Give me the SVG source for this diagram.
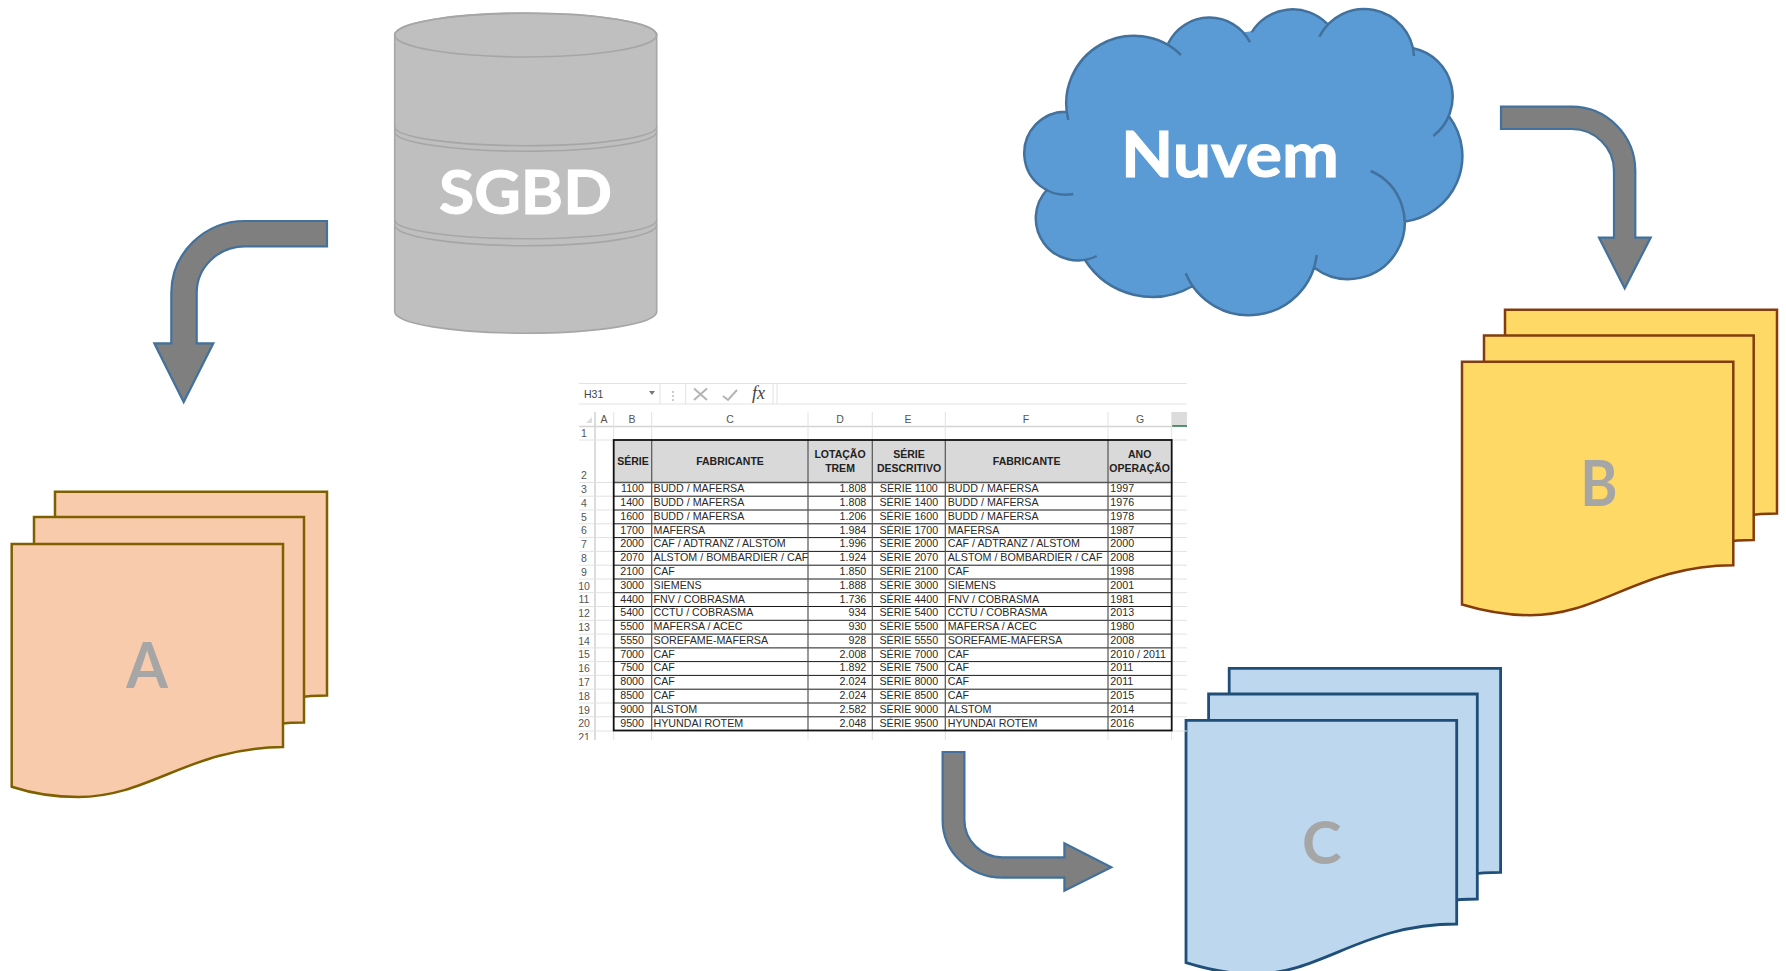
<svg xmlns="http://www.w3.org/2000/svg" width="1786" height="971" viewBox="0 0 1786 971">
<style>
text{font-family:"Liberation Sans",Arial,sans-serif}
.big{font-family:Lato,"Open Sans",sans-serif;font-weight:700;text-anchor:middle}
.w{fill:#fff;stroke:#fff;stroke-width:1}.g{fill:#a6a6a6}
.arrow{fill:#7f7f7f;stroke:#41719c;stroke-width:2.2;stroke-linejoin:miter}
.db{fill:#bfbfbf;stroke:#a6a6a6;stroke-width:1.6}
.dbl{fill:none;stroke:#a6a6a6;stroke-width:1.6}
.sa{fill:#f8cbad;stroke:#7f6000;stroke-width:2.5}
.sb{fill:#ffd966;stroke:#843c0c;stroke-width:2.5}
.sc{fill:#bdd7ee;stroke:#1f4e79;stroke-width:2.8}
.grid{stroke:#e2e2e2;stroke-width:1;fill:none}
.hdrl{stroke:#d4d4d4;stroke-width:1.6;fill:none}
.tl{stroke:#1a1a1a;stroke-width:1;fill:none}
.tv{stroke:#555;stroke-width:1.2;fill:none}
.t{font-size:10.7px;fill:#2a2a2a}
.e{text-anchor:end}.m{text-anchor:middle}
.h{font-size:10.5px;font-weight:700;fill:#222;text-anchor:middle}
.c{font-size:10.5px;fill:#555;text-anchor:middle}
.ic{stroke:#b4b4b4;stroke-width:2;fill:none}
</style>
<defs><clipPath id="sheetclip"><rect x="575" y="380" width="612" height="360"/></clipPath></defs>

<g id="sgbd">
<path class="db" d="M394.7,35 A131,21.8 0 0 1 656.7,35 V311.7 A131,21.5 0 0 1 394.7,311.7 Z"/>
<ellipse class="dbl" cx="525.7" cy="35" rx="131" ry="22"/>
<path class="dbl" d="M394.7,126.7 A131,19 0 0 0 656.7,126.7 M394.7,131.7 A131,19.5 0 0 0 656.7,131.7 M394.7,220 A131,18.7 0 0 0 656.7,220 M394.7,225 A131,20.7 0 0 0 656.7,225"/>
<text class="big w" x="525.5" y="214" font-size="62" textLength="173" lengthAdjust="spacingAndGlyphs">SGBD</text>
</g>

<g id="nuvem">
<polygon fill="#5b9bd5" stroke="#5b9bd5" stroke-width="2" points="1066.7,111.7 1168.3,43.3 1251.7,32.3 1326.7,23.3 1413.3,48.3 1449.3,116.7 1404,221.7 1315,268.3 1192.7,286 1085,260 1047.7,189"/>
<path fill="#5b9bd5" stroke="#41719c" stroke-width="2.5" d="M1068.3,120 A67.6,67.6 0 0 1 1181,55 M1168.3,43.3 A45.7,45.7 0 0 1 1250,42.3 M1251.7,32.3 A48.2,48.2 0 0 1 1326.7,23.3 M1319.3,36.7 A50,50 0 0 1 1414,56 M1413.3,48.3 A49.5,49.5 0 0 1 1433.3,136 M1449.3,116.7 A66,66 0 0 1 1404,221.7 M1370.7,171 A56.4,56.4 0 1 1 1315,268.3 M1316.7,255 A68.4,68.4 0 0 1 1185.7,273.3 M1192.7,286 A80,80 0 0 1 1085,260 M1096.7,256 A42.1,42.1 0 0 1 1047.7,189 M1073.3,194 A41.5,41.5 0 1 1 1066.7,111.7"/>
<text class="big w" x="1230" y="177" font-size="63" textLength="218" lengthAdjust="spacingAndGlyphs">Nuvem</text>
</g>

<g id="stack-a">
<path class="sa" d="M55,491.8 H327 V695.6 C234,695.9 194,745.3 122,745.3 C94,745.3 74,741 55,735 Z"/>
<path class="sa" d="M34,517.1 H304 V722.6 C211,722.9 171,772.3 99.8,772.3 C72,772.3 52,768 34,762 Z"/>
<path class="sa" d="M11.7,544 H283 V747.1 C190,747.4 150,797 78.3,797 C50,797 30,792.7 11.7,786.7 Z"/>
<text class="big g" x="147" y="688" font-size="63" textLength="41.7" lengthAdjust="spacingAndGlyphs">A</text>
</g>

<g id="stack-b">
<path class="sb" d="M1505,309.7 H1777 V513.4 C1684,513.6 1646,563.4 1574,563.4 C1549,563.4 1526,558.7 1505,552.7 Z"/>
<path class="sb" d="M1484,335.5 H1753.7 V540 C1661,540.2 1623,590 1551,590 C1526,590 1504,585.3 1484,579.3 Z"/>
<path class="sb" d="M1462,361.7 H1733.3 V565.2 C1640,565.4 1602,615.2 1530,615.2 C1505,615.2 1482,610.5 1462,604.5 Z"/>
<text class="big g" x="1599" y="506" font-size="63" textLength="37.3" lengthAdjust="spacingAndGlyphs">B</text>
</g>

<g id="stack-c">
<path class="sc" d="M1229.2,668.3 H1500.6 V872.3 C1405,872.3 1365,922 1297,922 C1271,922 1249,917 1229.2,910.7 Z"/>
<path class="sc" d="M1208.6,694 H1477.3 V899 C1384,899 1344,948 1276,948 C1250,948 1228,943 1208.6,936.7 Z"/>
<path class="sc" d="M1186,720.3 H1456.7 V924 C1362,924 1322,974 1254,974 C1228,974 1206,969 1186,962.7 Z"/>
<text class="big g" x="1321.7" y="864" font-size="60" textLength="39.5" lengthAdjust="spacingAndGlyphs">C</text>
</g>

<g id="connectors">
<path id="arrow-sgbd-a" class="arrow" d="M327,221 L245,221 A73.7,72 0 0 0 171.3,293 L171.3,343.3 L154.3,343.3 L183.7,402 L213.3,343.3 L196.7,343.3 L196.7,293 A48.3,46.7 0 0 1 245,246.3 L327,246.3 Z"/>
<path id="arrow-nuvem-b" class="arrow" d="M1501,106.6 L1571.7,106.6 A63.6,64.4 0 0 1 1635.3,171 L1635.3,237.6 L1650.7,237.6 L1624.7,288.3 L1599,237.6 L1614,237.6 L1614,171 A42.3,42 0 0 0 1571.7,129 L1501,129 Z"/>
<path id="arrow-planilha-c" class="arrow" d="M942.6,752 L964.4,752 L964.4,820 A38,37.3 0 0 0 1002.5,857.3 L1064.4,857.3 L1064.4,843.3 L1111.3,867.3 L1064.4,890.7 L1064.4,877.7 L1002.5,877.7 A60,57.7 0 0 1 942.6,820 Z"/>
</g>

<g id="planilha" clip-path="url(#sheetclip)">
<!-- formula bar -->
<path class="grid" stroke-width="1.5" d="M579,383.5 H1187 M579,404 H1187 M660,383.5 V404 M685.7,383.5 V404 M773,383.5 V404 M777,383.5 V404"/>
<text x="584" y="398" font-size="10.5" fill="#444">H31</text>
<polygon points="649,391 655,391 652,395" fill="#777"/>
<path d="M673,391 V393 M673,395 V397 M673,399 V401" stroke="#aaa" stroke-width="1.2"/>
<path class="ic" d="M694,388.5 L707,400 M707,388.5 L694,400"/>
<path class="ic" d="M723,396 L728,400 L737,390"/>
<text x="752" y="399" font-size="18" font-style="italic" fill="#444" style="font-family:'Liberation Serif',serif">fx</text>
<!-- column headers -->
<rect x="1172" y="412" width="15" height="14" fill="#dcdcdc"/>
<path d="M1172,426 H1187" stroke="#217346" stroke-width="1.5"/>
<polygon points="592,417 592,423 586,423" fill="#dcdcdc"/>
<path class="hdrl" d="M579,426.5 H1172 M595,412 V740"/>
<path class="grid" d="M613.7,412 V440 M651.7,412 V440 M808,412 V440 M872.3,412 V440 M945.3,412 V440 M1108,412 V440 M1171.7,412 V440 M613.7,731 V740 M651.7,731 V740 M808,731 V740 M872.3,731 V740 M945.3,731 V740 M1108,731 V740 M1171.7,731 V740"/>
<path class="grid" d="M579,440 H613 M1172,440 H1187 M579,482.5 H613 M1172,482.5 H1187 M579,496.2 H613 M1172,496.2 H1187 M579,510 H613 M1172,510 H1187 M579,523.8 H613 M1172,523.8 H1187 M579,537.6 H613 M1172,537.6 H1187 M579,551.4 H613 M1172,551.4 H1187 M579,565.2 H613 M1172,565.2 H1187 M579,579 H613 M1172,579 H1187 M579,592.7 H613 M1172,592.7 H1187 M579,606.5 H613 M1172,606.5 H1187 M579,620.3 H613 M1172,620.3 H1187 M579,634.1 H613 M1172,634.1 H1187 M579,647.9 H613 M1172,647.9 H1187 M579,661.6 H613 M1172,661.6 H1187 M579,675.4 H613 M1172,675.4 H1187 M579,689.2 H613 M1172,689.2 H1187 M579,703 H613 M1172,703 H1187 M579,716.8 H613 M1172,716.8 H1187 M579,731 H613 M1172,731 H1187"/>
<g class="c">
<text class="c" x="604" y="423">A</text><text class="c" x="632" y="423">B</text><text class="c" x="730" y="423">C</text><text class="c" x="840" y="423">D</text><text class="c" x="908" y="423">E</text><text class="c" x="1026" y="423">F</text><text class="c" x="1140" y="423">G</text>
<text class="c" x="584" y="437">1</text><text class="c" x="584" y="479">2</text><text class="c" x="584" y="493">3</text><text class="c" x="584" y="506.8">4</text><text class="c" x="584" y="520.6">5</text><text class="c" x="584" y="534.3">6</text><text class="c" x="584" y="548.1">7</text><text class="c" x="584" y="561.9">8</text><text class="c" x="584" y="575.7">9</text><text class="c" x="584" y="589.5">10</text><text class="c" x="584" y="603.2">11</text><text class="c" x="584" y="617">12</text><text class="c" x="584" y="630.8">13</text><text class="c" x="584" y="644.6">14</text><text class="c" x="584" y="658.4">15</text><text class="c" x="584" y="672.1">16</text><text class="c" x="584" y="685.9">17</text><text class="c" x="584" y="699.7">18</text><text class="c" x="584" y="713.5">19</text><text class="c" x="584" y="727.3">20</text><text class="c" x="584" y="741">21</text>
</g>
<!-- table -->
<rect x="613.7" y="440" width="558" height="42.5" fill="#d9d9d9"/>
<path class="tl" d="M613.7,496.2 H1171.7 M613.7,510 H1171.7 M613.7,523.8 H1171.7 M613.7,537.6 H1171.7 M613.7,551.4 H1171.7 M613.7,565.2 H1171.7 M613.7,579 H1171.7 M613.7,592.7 H1171.7 M613.7,606.5 H1171.7 M613.7,620.3 H1171.7 M613.7,634.1 H1171.7 M613.7,647.9 H1171.7 M613.7,661.6 H1171.7 M613.7,675.4 H1171.7 M613.7,689.2 H1171.7 M613.7,703 H1171.7 M613.7,716.8 H1171.7"/>
<path d="M613.7,482.5 H1171.7" stroke="#555" stroke-width="1.6"/>
<path class="tv" d="M651.7,440 V730.5 M808,440 V730.5 M872.3,440 V730.5 M945.3,440 V730.5 M1108,440 V730.5"/>
<rect x="613.7" y="440" width="558" height="290.5" fill="none" stroke="#111" stroke-width="1.8"/>
<text class="h" x="633" y="465">SÉRIE</text><text class="h" x="730" y="465">FABRICANTE</text><text class="h" x="840" y="458">LOTAÇÃO</text><text class="h" x="840" y="472">TREM</text><text class="h" x="909" y="458">SÉRIE</text><text class="h" x="909" y="472">DESCRITIVO</text><text class="h" x="1026.7" y="465">FABRICANTE</text><text class="h" x="1139.7" y="458">ANO</text><text class="h" x="1139.7" y="472">OPERAÇÃO</text>
<g class="t" transform="translate(0,-0.6)">
<text class="t e" x="644" y="493">1100</text><text class="t" x="653.5" y="493">BUDD / MAFERSA</text><text class="t e" x="866.3" y="493">1.808</text><text class="t m" x="908.8" y="493">SÉRIE 1100</text><text class="t" x="947.7" y="493">BUDD / MAFERSA</text><text class="t" x="1110.3" y="493">1997</text>
<text class="t e" x="644" y="506.8">1400</text><text class="t" x="653.5" y="506.8">BUDD / MAFERSA</text><text class="t e" x="866.3" y="506.8">1.808</text><text class="t m" x="908.8" y="506.8">SÉRIE 1400</text><text class="t" x="947.7" y="506.8">BUDD / MAFERSA</text><text class="t" x="1110.3" y="506.8">1976</text>
<text class="t e" x="644" y="520.6">1600</text><text class="t" x="653.5" y="520.6">BUDD / MAFERSA</text><text class="t e" x="866.3" y="520.6">1.206</text><text class="t m" x="908.8" y="520.6">SÉRIE 1600</text><text class="t" x="947.7" y="520.6">BUDD / MAFERSA</text><text class="t" x="1110.3" y="520.6">1978</text>
<text class="t e" x="644" y="534.3">1700</text><text class="t" x="653.5" y="534.3">MAFERSA</text><text class="t e" x="866.3" y="534.3">1.984</text><text class="t m" x="908.8" y="534.3">SÉRIE 1700</text><text class="t" x="947.7" y="534.3">MAFERSA</text><text class="t" x="1110.3" y="534.3">1987</text>
<text class="t e" x="644" y="548.1">2000</text><text class="t" x="653.5" y="548.1">CAF / ADTRANZ / ALSTOM</text><text class="t e" x="866.3" y="548.1">1.996</text><text class="t m" x="908.8" y="548.1">SÉRIE 2000</text><text class="t" x="947.7" y="548.1">CAF / ADTRANZ / ALSTOM</text><text class="t" x="1110.3" y="548.1">2000</text>
<text class="t e" x="644" y="561.9">2070</text><text class="t" x="653.5" y="561.9">ALSTOM / BOMBARDIER / CAF</text><text class="t e" x="866.3" y="561.9">1.924</text><text class="t m" x="908.8" y="561.9">SÉRIE 2070</text><text class="t" x="947.7" y="561.9">ALSTOM / BOMBARDIER / CAF</text><text class="t" x="1110.3" y="561.9">2008</text>
<text class="t e" x="644" y="575.7">2100</text><text class="t" x="653.5" y="575.7">CAF</text><text class="t e" x="866.3" y="575.7">1.850</text><text class="t m" x="908.8" y="575.7">SÉRIE 2100</text><text class="t" x="947.7" y="575.7">CAF</text><text class="t" x="1110.3" y="575.7">1998</text>
<text class="t e" x="644" y="589.5">3000</text><text class="t" x="653.5" y="589.5">SIEMENS</text><text class="t e" x="866.3" y="589.5">1.888</text><text class="t m" x="908.8" y="589.5">SÉRIE 3000</text><text class="t" x="947.7" y="589.5">SIEMENS</text><text class="t" x="1110.3" y="589.5">2001</text>
<text class="t e" x="644" y="603.2">4400</text><text class="t" x="653.5" y="603.2">FNV / COBRASMA</text><text class="t e" x="866.3" y="603.2">1.736</text><text class="t m" x="908.8" y="603.2">SÉRIE 4400</text><text class="t" x="947.7" y="603.2">FNV / COBRASMA</text><text class="t" x="1110.3" y="603.2">1981</text>
<text class="t e" x="644" y="617">5400</text><text class="t" x="653.5" y="617">CCTU / COBRASMA</text><text class="t e" x="866.3" y="617">934</text><text class="t m" x="908.8" y="617">SÉRIE 5400</text><text class="t" x="947.7" y="617">CCTU / COBRASMA</text><text class="t" x="1110.3" y="617">2013</text>
<text class="t e" x="644" y="630.8">5500</text><text class="t" x="653.5" y="630.8">MAFERSA / ACEC</text><text class="t e" x="866.3" y="630.8">930</text><text class="t m" x="908.8" y="630.8">SÉRIE 5500</text><text class="t" x="947.7" y="630.8">MAFERSA / ACEC</text><text class="t" x="1110.3" y="630.8">1980</text>
<text class="t e" x="644" y="644.6">5550</text><text class="t" x="653.5" y="644.6">SOREFAME-MAFERSA</text><text class="t e" x="866.3" y="644.6">928</text><text class="t m" x="908.8" y="644.6">SÉRIE 5550</text><text class="t" x="947.7" y="644.6">SOREFAME-MAFERSA</text><text class="t" x="1110.3" y="644.6">2008</text>
<text class="t e" x="644" y="658.4">7000</text><text class="t" x="653.5" y="658.4">CAF</text><text class="t e" x="866.3" y="658.4">2.008</text><text class="t m" x="908.8" y="658.4">SÉRIE 7000</text><text class="t" x="947.7" y="658.4">CAF</text><text class="t" x="1110.3" y="658.4">2010 / 2011</text>
<text class="t e" x="644" y="672.1">7500</text><text class="t" x="653.5" y="672.1">CAF</text><text class="t e" x="866.3" y="672.1">1.892</text><text class="t m" x="908.8" y="672.1">SÉRIE 7500</text><text class="t" x="947.7" y="672.1">CAF</text><text class="t" x="1110.3" y="672.1">2011</text>
<text class="t e" x="644" y="685.9">8000</text><text class="t" x="653.5" y="685.9">CAF</text><text class="t e" x="866.3" y="685.9">2.024</text><text class="t m" x="908.8" y="685.9">SÉRIE 8000</text><text class="t" x="947.7" y="685.9">CAF</text><text class="t" x="1110.3" y="685.9">2011</text>
<text class="t e" x="644" y="699.7">8500</text><text class="t" x="653.5" y="699.7">CAF</text><text class="t e" x="866.3" y="699.7">2.024</text><text class="t m" x="908.8" y="699.7">SÉRIE 8500</text><text class="t" x="947.7" y="699.7">CAF</text><text class="t" x="1110.3" y="699.7">2015</text>
<text class="t e" x="644" y="713.5">9000</text><text class="t" x="653.5" y="713.5">ALSTOM</text><text class="t e" x="866.3" y="713.5">2.582</text><text class="t m" x="908.8" y="713.5">SÉRIE 9000</text><text class="t" x="947.7" y="713.5">ALSTOM</text><text class="t" x="1110.3" y="713.5">2014</text>
<text class="t e" x="644" y="727.3">9500</text><text class="t" x="653.5" y="727.3">HYUNDAI ROTEM</text><text class="t e" x="866.3" y="727.3">2.048</text><text class="t m" x="908.8" y="727.3">SÉRIE 9500</text><text class="t" x="947.7" y="727.3">HYUNDAI ROTEM</text><text class="t" x="1110.3" y="727.3">2016</text>
</g>
</g>
</svg>
